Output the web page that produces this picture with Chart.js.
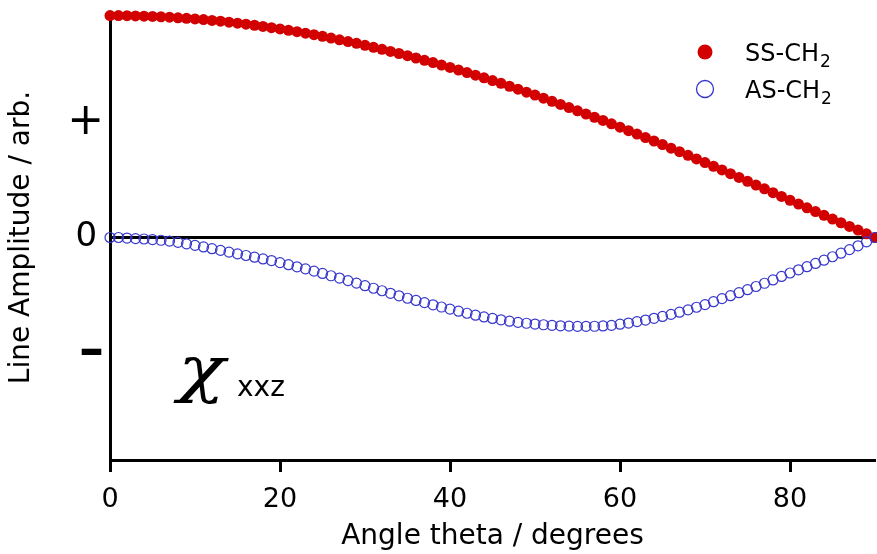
<!DOCTYPE html>
<html>
<head>
<meta charset="utf-8">
<script src="https://cdn.jsdelivr.net/npm/chart.js@4"></script>
<style>
  html, body { margin: 0; padding: 0; background: #fff; }
</style>
</head>
<body>
<canvas id="chart" width="877" height="554"></canvas>
<script>
// angle theta in degrees
const angles = [
    0, 1, 2, 3, 4, 5, 6, 7, 8, 9,
    10, 11, 12, 13, 14, 15, 16, 17, 18, 19,
    20, 21, 22, 23, 24, 25, 26, 27, 28, 29,
    30, 31, 32, 33, 34, 35, 36, 37, 38, 39,
    40, 41, 42, 43, 44, 45, 46, 47, 48, 49,
    50, 51, 52, 53, 54, 55, 56, 57, 58, 59,
    60, 61, 62, 63, 64, 65, 66, 67, 68, 69,
    70, 71, 72, 73, 74, 75, 76, 77, 78, 79,
    80, 81, 82, 83, 84, 85, 86, 87, 88, 89,
    90
];

// SS-CH2 line amplitude
const ssCH2 = [
    1.925, 1.925, 1.924, 1.922, 1.920, 1.918, 1.914, 1.911, 1.906, 1.901,
    1.896, 1.890, 1.883, 1.876, 1.868, 1.859, 1.850, 1.841, 1.831, 1.820,
    1.809, 1.797, 1.785, 1.772, 1.759, 1.745, 1.730, 1.715, 1.700, 1.684,
    1.667, 1.650, 1.632, 1.614, 1.596, 1.577, 1.557, 1.537, 1.517, 1.496,
    1.475, 1.453, 1.431, 1.408, 1.385, 1.361, 1.337, 1.312, 1.287, 1.261,
    1.235, 1.208, 1.181, 1.154, 1.127, 1.099, 1.071, 1.043, 1.015, 0.986,
    0.957, 0.927, 0.897, 0.867, 0.837, 0.806, 0.775, 0.744, 0.713, 0.682,
    0.650, 0.618, 0.586, 0.554, 0.521, 0.488, 0.455, 0.422, 0.389, 0.356,
    0.323, 0.290, 0.257, 0.225, 0.192, 0.160, 0.128, 0.096, 0.064, 0.032,
    0.000
];

// AS-CH2 line amplitude
const asCH2 = [
    0.000, 0.000, -0.005, -0.010, -0.013, -0.018, -0.024, -0.031, -0.042, -0.055,
    -0.068, -0.082, -0.097, -0.112, -0.127, -0.142, -0.156, -0.171, -0.186, -0.200,
    -0.218, -0.236, -0.254, -0.272, -0.292, -0.312, -0.332, -0.352, -0.374, -0.396,
    -0.418, -0.440, -0.462, -0.484, -0.506, -0.527, -0.546, -0.565, -0.584, -0.603,
    -0.621, -0.639, -0.657, -0.674, -0.689, -0.702, -0.714, -0.726, -0.736, -0.744,
    -0.751, -0.757, -0.762, -0.766, -0.769, -0.771, -0.771, -0.770, -0.767, -0.762,
    -0.752, -0.742, -0.730, -0.716, -0.701, -0.685, -0.667, -0.648, -0.628, -0.605,
    -0.582, -0.557, -0.530, -0.505, -0.479, -0.453, -0.425, -0.397, -0.368, -0.338,
    -0.308, -0.280, -0.253, -0.225, -0.197, -0.167, -0.136, -0.105, -0.072, -0.038,
    0.000
];

const xTicks = [0, 20, 40, 60, 80];
const yTicks = [-1, 0, 1];
const yTickLabels = ['\u2013', '0\u2009', '+'];
const seriesNames = ['SS-CH', 'AS-CH'];

var FONT = '"DejaVu Sans"';
var RED = 'rgb(210, 0, 0)';
var BLUE = 'rgb(55, 55, 205)';

// legend with subscript + chi label
var textPlugin = {
    id: 'textPlugin',
    afterDraw: function(chart) {
        var ctx = chart.ctx;
        ctx.save();
        ctx.textBaseline = 'alphabetic';
        ctx.textAlign = 'left';

        seriesNames.forEach(function(name, i) {
            var cy = 52 + i * 37;
            ctx.beginPath();
            if (i == 0) {
                ctx.arc(705, cy, 7.5, 0, Math.PI * 2);
                ctx.fillStyle = RED;
                ctx.fill();
            } else {
                ctx.arc(705, cy, 8.5, 0, Math.PI * 2);
                ctx.strokeStyle = BLUE;
                ctx.lineWidth = 1.3;
                ctx.stroke();
            }
            ctx.fillStyle = '#000';
            ctx.font = '24px ' + FONT;
            ctx.fillText(name, 745, cy + 9);
            var w = ctx.measureText(name).width;
            ctx.font = '17px ' + FONT;
            ctx.fillText('2', 745 + w + 1, cy + 15);
        });

        // chi_xxz
        ctx.fillStyle = '#000';
        ctx.save();
        ctx.translate(178, 390);
        ctx.scale(1.25, 1);
        ctx.font = 'italic 62px "DejaVu Serif"';
        ctx.fillText('\u03C7', 0, 0);
        ctx.restore();
        ctx.font = '28px ' + FONT;
        ctx.fillText('xxz', 237, 396);
        ctx.restore();
    }
};

new Chart(document.getElementById('chart'), {
    type: 'scatter',
    data: {
        datasets: [{
            label: 'AS-CH2',
            data: angles.map(function(a, i) { return { x: a, y: asCH2[i] }; }),
            pointRadius: 5,
            pointBackgroundColor: 'rgba(0,0,0,0)',
            pointBorderColor: BLUE,
            pointBorderWidth: 1.2,
            clip: false,
            order: 0
        }, {
            label: 'SS-CH2',
            data: angles.map(function(a, i) { return { x: a, y: ssCH2[i] }; }),
            pointRadius: 5.5,
            pointBackgroundColor: RED,
            pointBorderWidth: 0,
            clip: false,
            order: 1
        }]
    },
    options: {
        responsive: false,
        animation: false,
        layout: {
            autoPadding: false,
            padding: { top: 15, right: 2, left: 0, bottom: 0 }
        },
        plugins: {
            legend: { display: false },
            tooltip: { enabled: false }
        },
        scales: {
            x: {
                type: 'linear',
                min: 0,
                max: 90,
                afterBuildTicks: function(scale) {
                    scale.ticks = xTicks.map(function(v) { return { value: v }; });
                },
                afterFit: function(scale) {
                    scale.height = 94;
                    scale.paddingLeft = 0;
                    scale.paddingRight = 0;
                },
                grid: {
                    drawOnChartArea: false,
                    drawTicks: true,
                    tickLength: 12,
                    tickColor: '#000',
                    tickWidth: 3
                },
                border: { display: true, color: '#000', width: 3 },
                ticks: {
                    color: '#000',
                    font: { family: FONT, size: 27 },
                    padding: 12,
                    maxRotation: 0
                },
                title: {
                    display: true,
                    text: 'Angle theta / degrees',
                    color: '#000',
                    font: { family: FONT, size: 28, lineHeight: 1 },
                    padding: { top: 0, bottom: 3 }
                }
            },
            y: {
                type: 'linear',
                min: -1.93,
                max: 1.93,
                afterBuildTicks: function(scale) {
                    scale.ticks = yTicks.map(function(v) { return { value: v }; });
                },
                afterFit: function(scale) {
                    scale.width = 110;
                    scale.paddingTop = 0;
                    scale.paddingBottom = 0;
                },
                grid: {
                    drawTicks: false,
                    color: function(c) { return c.tick && c.tick.value === 0 ? '#000' : 'rgba(0,0,0,0)'; },
                    lineWidth: 3
                },
                border: { display: true, color: '#000', width: 3 },
                ticks: {
                    color: '#000',
                    padding: 6,
                    font: function(c) {
                        var v = c.tick ? c.tick.value : 0;
                        if (v > 0) return { family: FONT, size: 44 };
                        if (v < 0) return { family: FONT, size: 50, weight: 'bold' };
                        return { family: FONT, size: 34 };
                    },
                    callback: function(value) {
                        return yTickLabels[yTicks.indexOf(value)];
                    }
                },
                title: {
                    display: true,
                    text: 'Line Amplitude / arb.',
                    color: '#000',
                    font: { family: FONT, size: 28, lineHeight: 1.2 },
                    padding: { top: 5, bottom: 0 }
                }
            }
        }
    },
    plugins: [textPlugin]
});
</script>
</body>
</html>
